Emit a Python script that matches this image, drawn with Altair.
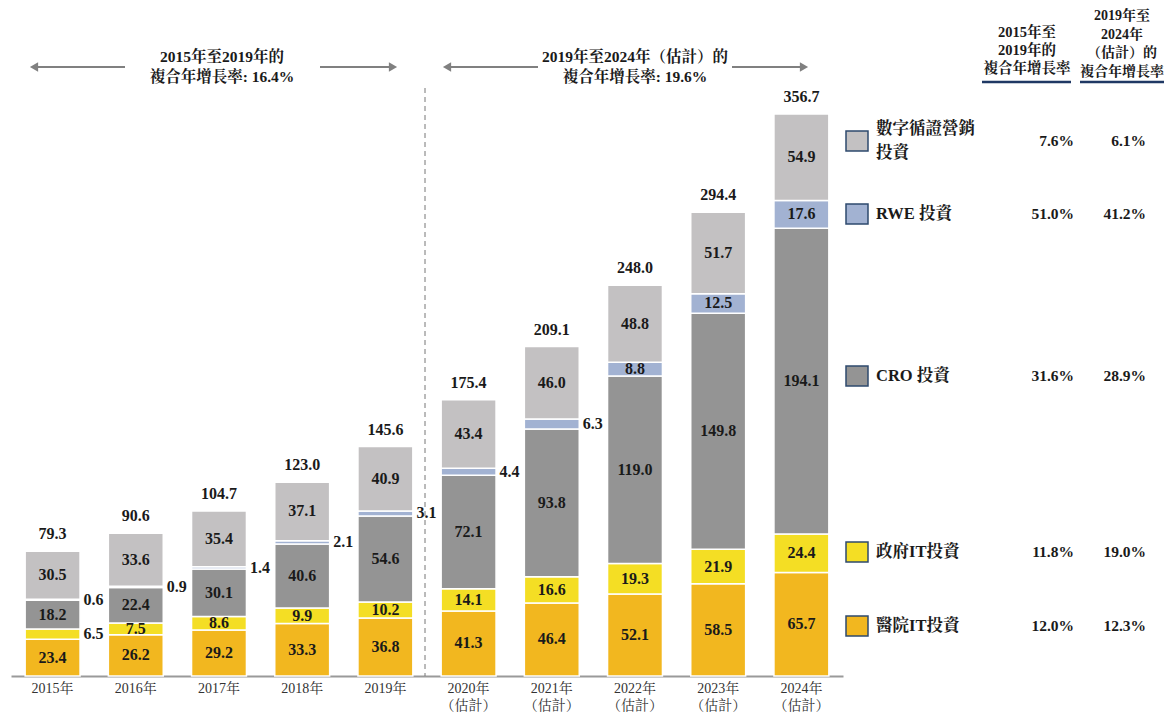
import altair as alt
import pandas as pd

# ---------------- data ----------------
year_keys = ["2015", "2016", "2017", "2018", "2019", "2020", "2021", "2022", "2023", "2024"]
year_labels = ["2015年", "2016年", "2017年", "2018年", "2019年",
               "2020年\n（估計）", "2021年\n（估計）", "2022年\n（估計）", "2023年\n（估計）", "2024年\n（估計）"]
hospital_it = [23.4, 26.2, 29.2, 33.3, 36.8, 41.3, 46.4, 52.1, 58.5, 65.7]
gov_it = [6.5, 7.5, 8.6, 9.9, 10.2, 14.1, 16.6, 19.3, 21.9, 24.4]
cro = [18.2, 22.4, 30.1, 40.6, 54.6, 72.1, 93.8, 119.0, 149.8, 194.1]
rwe = [0.6, 0.9, 1.4, 2.1, 3.1, 4.4, 6.3, 8.8, 12.5, 17.6]
digital = [30.5, 33.6, 35.4, 37.1, 40.9, 43.4, 46.0, 48.8, 51.7, 54.9]
totals = [79.3, 90.6, 104.7, 123.0, 145.6, 175.4, 209.1, 248.0, 294.4, 356.7]

categories = ["醫院IT投資", "政府IT投資", "CRO 投資", "RWE 投資", "數字循證營銷投資"]
legend_labels = ["醫院IT投資", "政府IT投資", "CRO 投資", "RWE 投資", "數字循證營銷\n投資"]
cagr_2015_2019 = ["12.0%", "11.8%", "31.6%", "51.0%", "7.6%"]
cagr_2019_2024 = ["12.3%", "19.0%", "28.9%", "41.2%", "6.1%"]
colors = ["#F2B71F", "#F4DE24", "#949494", "#A2B2D2", "#C3C1C2"]

period1_text = ["2015年至2019年的", "複合年增長率: 16.4%"]
period2_text = ["2019年至2024年（估計）的", "複合年增長率: 19.6%"]
head1 = ["2015年至", "2019年的", "複合年增長率"]
head2 = ["2019年至", "2024年", "（估計）的", "複合年增長率"]

# ---------------- build tables ----------------
series = [hospital_it, gov_it, cro, rwe, digital]
rows = []
for i, yk in enumerate(year_keys):
    cum = 0.0
    for c, (cat, vals) in enumerate(zip(categories, series)):
        v = vals[i]
        rows.append({"year": yk, "cat": cat, "order": c, "value": v,
                     "start": cum, "end": cum + v, "mid": cum + v / 2,
                     "label": f"{v:.1f}", "outside": v < 7})
        cum += v
df = pd.DataFrame(rows)
tot_df = pd.DataFrame({"year": year_keys, "total": totals,
                       "label": [f"{t:.1f}" for t in totals], "xl": year_labels})

FONT = "Liberation Serif, Noto Serif CJK TC, Noto Sans CJK TC"
TXT = "#1a1a1a"

x_enc = alt.X("year:N", sort=year_keys,
              scale=alt.Scale(paddingInner=0.34, paddingOuter=0.17),
              axis=alt.Axis(title=None, labels=False, ticks=False, grid=False,
                            domainColor="#9a9a9a", domainWidth=2))
y_scale = alt.Scale(domain=[0, 424], nice=False, zero=True)

bars = alt.Chart(df).mark_bar(stroke="white", strokeWidth=1.5).encode(
    x=x_enc,
    y=alt.Y("start:Q", scale=y_scale, axis=None),
    y2="end:Q",
    color=alt.Color("cat:N", scale=alt.Scale(domain=categories, range=colors), legend=None),
)

inside = alt.Chart(df).transform_filter("!datum.outside").mark_text(
    font=FONT, fontSize=16, fontWeight="bold", color=TXT, baseline="middle"
).encode(x=x_enc, y=alt.Y("mid:Q", scale=y_scale, axis=None), text="label:N")

outside = alt.Chart(df).transform_filter("datum.outside").mark_text(
    font=FONT, fontSize=16, fontWeight="bold", color=TXT, baseline="middle", dx=41
).encode(x=x_enc, y=alt.Y("mid:Q", scale=y_scale, axis=None), text="label:N")

total_txt = alt.Chart(tot_df).mark_text(
    font=FONT, fontSize=16, fontWeight="bold", color=TXT, baseline="middle", dy=-17
).encode(x=x_enc, y=alt.Y("total:Q", scale=y_scale, axis=None), text="label:N")

xlabels = alt.Chart(tot_df).mark_text(
    font=FONT, fontSize=14, color="#333333", baseline="top", lineBreak="\n", lineHeight=17
).encode(x=x_enc, y=alt.value(674), text="xl:N")

one = pd.DataFrame({"k": [0]})
layers = [bars, inside, outside, total_txt, xlabels]

# dashed divider
layers.append(alt.Chart(one).mark_rule(color="#777777", strokeWidth=1, strokeDash=[5, 4]).encode(
    x=alt.value(414), y=alt.value(80), y2=alt.value(668)))

# arrows
ARR = "#808080"
for (x1, x2, tip, shape) in [(24, 114, 19, "triangle-left"), (309, 382, 386, "triangle-right"),
                             (437, 527, 432, "triangle-left"), (721, 792, 797, "triangle-right")]:
    layers.append(alt.Chart(one).mark_rule(color=ARR, strokeWidth=2).encode(
        x=alt.value(x1), x2=alt.value(x2), y=alt.value(59)))
    layers.append(alt.Chart(one).mark_point(shape=shape, filled=True, color=ARR, opacity=1, size=90).encode(
        x=alt.value(tip + (4 if shape == "triangle-left" else -4)), y=alt.value(59)))

for (cx, lines) in [(211, period1_text), (624, period2_text)]:
    for j, t in enumerate(lines):
        layers.append(alt.Chart(one).mark_text(text=t, font=FONT, fontSize=15.5, fontWeight="bold",
                                               color=TXT, baseline="middle", align="center").encode(
            x=alt.value(cx), y=alt.value(49 + 20 * j)))

# legend + CAGR table
row_y = [618, 544, 368, 206, 133]
for i in range(5):
    layers.append(alt.Chart(one).mark_rect(color=colors[i], stroke="#2E4A6E", strokeWidth=1.5).encode(
        x=alt.value(835), x2=alt.value(857), y=alt.value(row_y[i] - 10), y2=alt.value(row_y[i] + 10)))
    nl = legend_labels[i].count("\n")
    layers.append(alt.Chart(one).mark_text(text=legend_labels[i], font=FONT, fontSize=16.5, fontWeight="bold",
                                           color=TXT, baseline="middle", align="left",
                                           lineBreak="\n", lineHeight=24).encode(
        x=alt.value(865), y=alt.value(row_y[i] - 12 * nl)))
    layers.append(alt.Chart(one).mark_text(text=cagr_2015_2019[i], font=FONT, fontSize=15.5, fontWeight="bold",
                                           color=TXT, baseline="middle", align="right").encode(
        x=alt.value(1063), y=alt.value(row_y[i])))
    layers.append(alt.Chart(one).mark_text(text=cagr_2019_2024[i], font=FONT, fontSize=15.5, fontWeight="bold",
                                           color=TXT, baseline="middle", align="right").encode(
        x=alt.value(1135), y=alt.value(row_y[i])))

for j, t in enumerate(head1):
    layers.append(alt.Chart(one).mark_text(text=t, font=FONT, fontSize=14.5, fontWeight="bold",
                                           color=TXT, baseline="middle", align="center").encode(
        x=alt.value(1016), y=alt.value(25 + 18 * j)))
for j, t in enumerate(head2):
    layers.append(alt.Chart(one).mark_text(text=t, font=FONT, fontSize=14, fontWeight="bold",
                                           color=TXT, baseline="middle", align="center").encode(
        x=alt.value(1111), y=alt.value(8 + 18.5 * j)))
for (a, b) in [(971, 1060), (1069, 1153)]:
    layers.append(alt.Chart(one).mark_rule(color="#1F3864", strokeWidth=2.5).encode(
        x=alt.value(a), x2=alt.value(b), y=alt.value(74)))

chart = alt.layer(*layers).properties(
    width=832, height=668,
    autosize=alt.AutoSizeParams(type="none"),
    padding={"left": 3, "top": 0, "right": 323, "bottom": 40},
).configure_view(stroke=None)

chart.save("out.html", embed_options={"renderer": "svg", "actions": False})
